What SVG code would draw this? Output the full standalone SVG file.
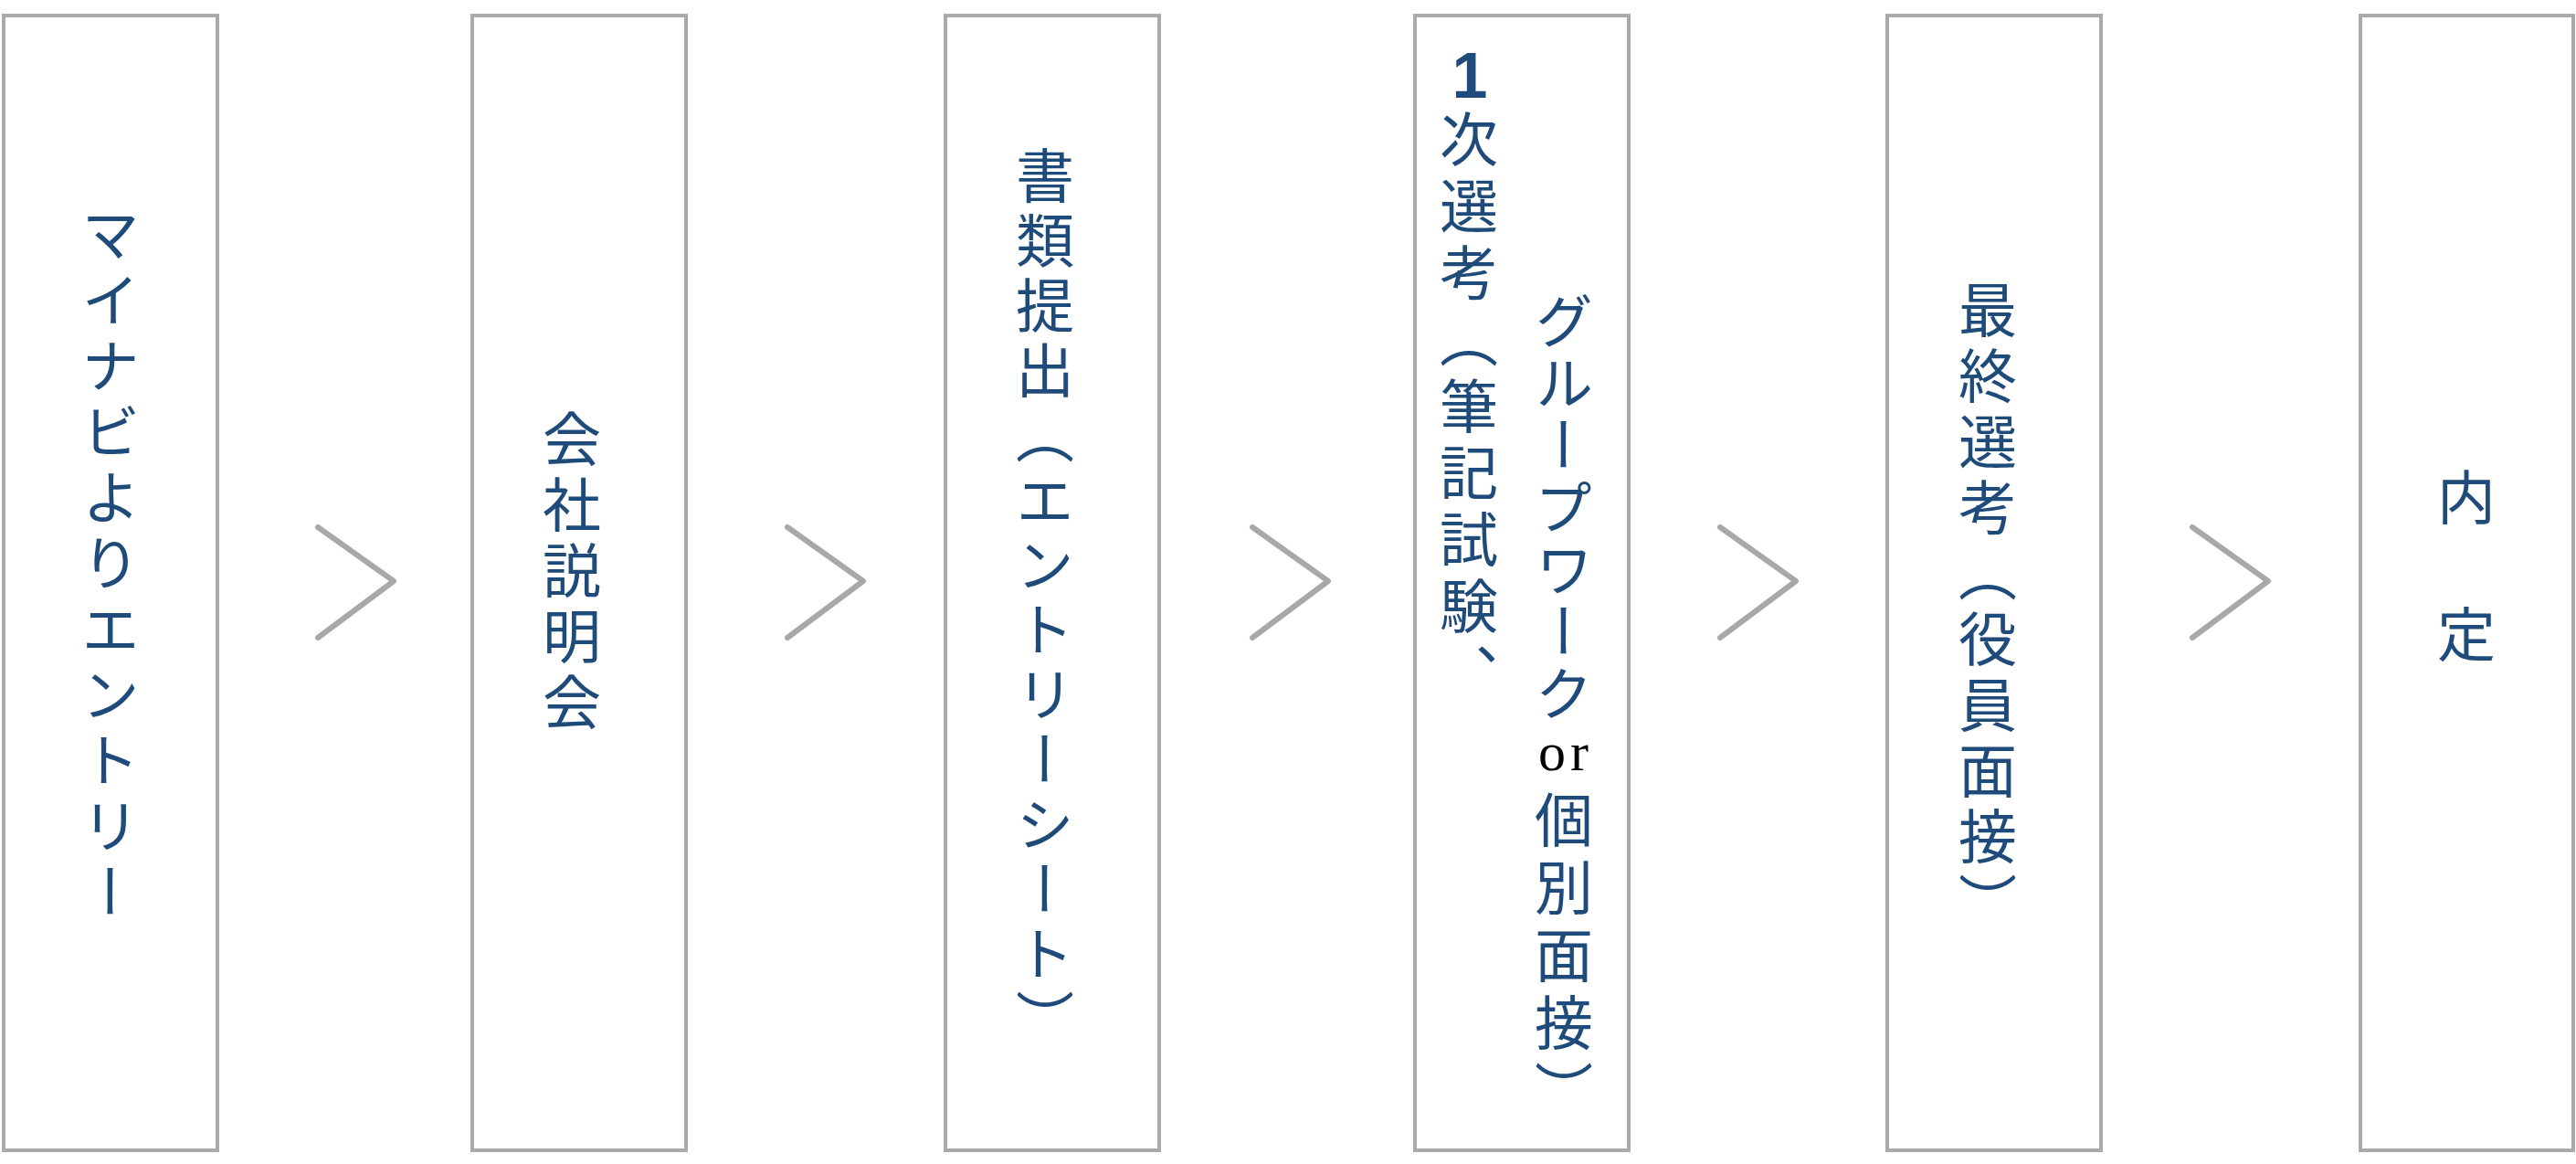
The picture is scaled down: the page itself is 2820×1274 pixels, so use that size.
<svg xmlns="http://www.w3.org/2000/svg" width="2820" height="1274" viewBox="0 0 2820 1274">
<style>
  .box { fill: #ffffff; stroke: #aaaaaa; stroke-width: 4; }
  .arrow { fill: none; stroke: #a8a8a8; stroke-width: 6; stroke-linecap: round; stroke-linejoin: round; }
  .vt { font-family: "Noto Sans CJK JP", "Noto Sans", sans-serif; font-size: 64px; fill: #1f4b7a; writing-mode: vertical-rl; letter-spacing: 8px; }
  .num { font-family: "Liberation Sans", Arial, sans-serif; font-weight: bold; font-size: 70px; fill: #1f4b7a; text-anchor: middle; }
  .or { font-family: "Liberation Serif", "Times New Roman", serif; font-size: 60px; fill: #000000; text-anchor: middle; letter-spacing: 5px; }
</style>
<rect x="0" y="0" width="2820" height="1274" fill="#ffffff"/>

<g id="node-entry">
  <rect class="box" x="4" y="17" width="234" height="1242"/>
  <text class="vt" x="121" y="224">マイナビよりエントリー</text>
</g>

<g id="node-setsumeikai">
  <rect class="box" x="517" y="17" width="234" height="1242"/>
  <text class="vt" x="626" y="448">会社説明会</text>
</g>

<g id="node-shorui">
  <rect class="box" x="1035" y="17" width="234" height="1242"/>
  <text class="vt" x="1144" y="160" style="letter-spacing:7px">書類提出（エントリーシート）</text>
</g>

<g id="node-ichiji">
  <rect class="box" x="1549" y="17" width="234" height="1242"/>
  <text class="num" x="1609" y="107">1</text>
  <text class="vt" x="1608" y="120" style="letter-spacing:9px">次選考（筆記試験、</text>
  <text class="vt" x="1712" y="319" style="letter-spacing:4px">グループワーク</text>
  <text class="or" x="1714" y="843">or</text>
  <text class="vt" x="1712" y="865" style="letter-spacing:10px">個別面接）</text>
</g>

<g id="node-saishu">
  <rect class="box" x="2066" y="17" width="234" height="1242"/>
  <text class="vt" x="2176" y="307">最終選考（役員面接）</text>
</g>

<g id="node-naitei">
  <rect class="box" x="2584" y="17" width="233" height="1242"/>
  <text class="vt" x="2700" y="512" style="letter-spacing:11px">内　定</text>
</g>

<g id="connectors">
  <polyline class="arrow" points="348,577 431,636 348,698"/>
  <polyline class="arrow" points="862,577 945,636 862,698"/>
  <polyline class="arrow" points="1371,577 1454,636 1371,698"/>
  <polyline class="arrow" points="1883,577 1966,636 1883,698"/>
  <polyline class="arrow" points="2400,577 2483,636 2400,698"/>
</g>
</svg>
